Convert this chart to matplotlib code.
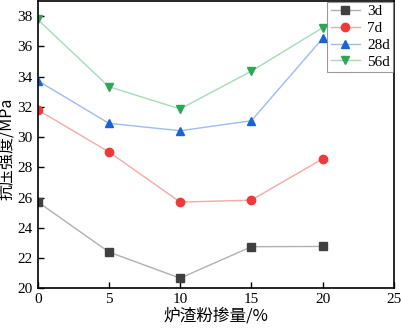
import matplotlib.pyplot as plt

# data
slag = [0, 5, 10, 15, 20]
s3d = [25.72, 22.40, 20.67, 22.75, 22.77]
s7d = [31.80, 29.02, 25.70, 25.83, 28.56]
s28d = [33.73, 30.91, 30.42, 31.08, 36.52]
s56d = [37.78, 33.33, 31.86, 34.36, 37.23]
labels = ['3d', '7d', '28d', '56d']

plt.rcParams['font.family'] = ['Liberation Serif', 'Noto Sans CJK SC']

fig = plt.figure(figsize=(4.01, 3.28), dpi=100)
ax = fig.add_axes([0.094, 0.121, 0.888, 0.876])

styles = [
    ('s', '#404040', '#b0b0b0'),
    ('o', '#f03a3a', '#f7a8a8'),
    ('^', '#1a63d6', '#9dbcf0'),
    ('v', '#2ea65a', '#a3dcb6'),
]
for ys, lab, (m, mc, lc) in zip([s3d, s7d, s28d, s56d], labels, styles):
    ax.plot(slag, ys, color=lc, lw=1, marker=m, markersize=6,
            markerfacecolor=mc, markeredgecolor=mc, label=lab)

ax.set_xlim(0, 25)
ax.set_ylim(20, 39)
ax.set_xticks([0, 5, 10, 15, 20, 25])
ax.set_yticks(range(20, 39, 2))
ax.tick_params(direction='in', labelsize=11, length=4, width=1)
for s in ax.spines.values():
    s.set_linewidth(1.2)

ax.set_xlabel('炉渣粉掺量/%', fontsize=12, family=['Noto Sans CJK SC'])
ax.set_ylabel('抗压强度/MPa', fontsize=11.5, family=['Noto Sans CJK SC'])
ax.xaxis.set_label_coords(0.5, -0.068)
ax.yaxis.set_label_coords(-0.06, 0.485)

leg = ax.legend(loc='upper right', fontsize=11, fancybox=False, edgecolor='#808080',
                borderaxespad=0.05, borderpad=0.2, handlelength=1.9,
                handletextpad=0.5, labelspacing=0.2)
leg.get_frame().set_linewidth(0.8)

plt.savefig('out.png')
